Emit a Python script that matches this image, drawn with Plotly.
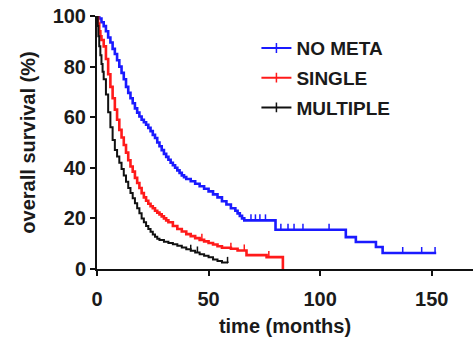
import numpy as np
import plotly.graph_objects as go

# ---- data ----
nometa_t = [0, 1, 2, 3, 4, 5, 6, 7, 8, 9, 10, 11, 12, 13, 14, 15, 16, 17, 18, 19, 20,
            21, 22, 23, 24, 25, 26, 27, 28, 29, 30, 31, 32, 33, 34, 35, 36, 37, 38, 39,
            40, 42, 44, 46, 48, 50, 52, 54, 56, 58, 60, 62, 63, 64, 65, 66, 80, 111.5,
            116, 125, 128, 152]
nometa_s = [100, 99, 97.5, 96, 94, 91.5, 89.5, 87, 85, 82.5, 80, 77.5, 75, 72, 69.6, 67.5,
            65.5, 63.5, 61.8, 60.3, 59, 58, 57, 55.8, 54.5, 53, 51.8, 50, 48.5, 47, 45.5,
            44.3, 43.2, 42, 41, 40, 39, 38, 37, 36.3, 35.6, 34.7, 33.7, 32.7, 31.7, 30.7,
            29.5, 28.3, 26.8, 25.5, 24, 23, 22, 21, 20, 19.2, 15.5, 12.6, 10.7, 8.7, 6.3,
            6.3]
nometa_censor = [69, 71, 73, 75.5, 82.4, 85.6, 88.3, 92.3, 104, 137, 145.5, 151.5]

single_t = [0, 0.5, 1, 1.5, 2, 3, 4, 5, 6, 7, 8, 9, 10, 11, 12, 13, 14, 15, 16, 17, 18,
            19, 20, 21, 22, 23, 24, 25, 26, 27, 28, 29, 30, 31, 32, 34, 36, 38, 40, 42,
            44, 46, 48, 50, 52, 54, 56, 60, 63, 67, 76, 83.3]
single_s = [100, 97, 94, 92, 90.5, 88, 83, 77, 72, 67.5, 63, 59, 55, 52, 49, 46, 43, 40.5,
            38.5, 36, 34, 32, 30, 28.3, 27, 25.8, 24.8, 24, 23, 22.3, 21.6, 20.8, 20,
            19.2, 18.5, 17, 15.8, 14.8, 13.8, 13, 12.2, 11.5, 10.9, 10.3, 9.7, 9, 8.4, 8,
            7.3, 5.5, 4.7, 0]
single_censor = [47, 60, 66, 77]

multiple_t = [0, 0.3, 0.6, 1, 1.5, 2, 2.5, 3, 4, 5, 6, 7, 8, 9, 10, 11, 12, 13, 14, 15,
              16, 17, 18, 19, 20, 21, 22, 23, 24, 25, 26, 27, 28, 30, 32, 34, 36, 38, 40,
              42, 44, 46, 48, 50, 52, 54, 56, 58.5]
multiple_s = [100, 96, 92, 88, 84.5, 81, 78, 75, 69, 62, 56, 51, 47, 44.5, 42, 39.5, 37,
              34.5, 32, 30, 28, 26, 24, 22, 20, 18.5, 17, 15.8, 14.7, 13.6, 12.7, 12, 11.5,
              10.8, 10.3, 9.8, 9.2, 8.5, 7.8, 7.2, 6.5, 5.8, 5.2, 4.6, 3.8, 3.2, 2.6, 2.4]
multiple_censor = [42, 45, 58.5]

group_names = ["NO META", "SINGLE", "MULTIPLE"]
group_colors = ["#1a1aff", "#ff1a1a", "#111111"]
x_ticks = [0, 50, 100, 150]
y_ticks = [0, 20, 40, 60, 80, 100]

FONT = "Liberation Sans"
TXT = "#1a1a1a"

groups = [(nometa_t, nometa_s, nometa_censor),
          (single_t, single_s, single_censor),
          (multiple_t, multiple_s, multiple_censor)]

fig = go.Figure()


def step_value(ts, ss, t):
    i = np.searchsorted(np.asarray(ts), t, side="right") - 1
    return ss[max(i, 0)]


for (ts, ss, cens), name, col in zip(groups, group_names, group_colors):
    lw = 2.0 if name == "MULTIPLE" else 2.6
    fig.add_trace(go.Scatter(x=ts, y=ss, mode="lines", line=dict(color=col, width=lw, shape="hv"),
                             showlegend=False, cliponaxis=False, hoverinfo="skip"))
    cy = [step_value(ts, ss, c) for c in cens]
    fig.add_trace(go.Scatter(x=cens, y=cy, mode="markers", marker=dict(size=1, color=col),
                             error_y=dict(type="constant", value=2.4, symmetric=False,
                                          valueminus=0, width=0, thickness=1.5, color=col),
                             showlegend=False, cliponaxis=False, hoverinfo="skip"))
    fig.add_trace(go.Scatter(x=[None], y=[None], mode="lines+markers", name=name,
                             legendgroup=name,
                             line=dict(color=col, width=2),
                             marker=dict(symbol="line-ns-open", size=7,
                                         line=dict(color=col, width=1.5))))

fig.update_layout(
    width=476, height=342,
    margin=dict(l=97, r=3, t=16, b=73, autoexpand=False),
    paper_bgcolor="white", plot_bgcolor="white",
    font=dict(family=FONT, size=19, color=TXT, weight="bold"),
    legend=dict(x=0.424, y=0.948, xanchor="left", yanchor="top",
                bgcolor="rgba(0,0,0,0)", tracegroupgap=2,
                font=dict(family=FONT, size=19, color=TXT, weight="bold")),
    xaxis=dict(range=[0, 168.5], tickvals=x_ticks, ticks="outside", ticklen=5, tickwidth=2,
               tickcolor="#111", showline=True, linewidth=2, linecolor="#111",
               showgrid=False, zeroline=False, ticklabelstandoff=6, automargin=False,
               tickfont=dict(family=FONT, size=20, color=TXT, weight="bold"),
               title=dict(text="time (months)", standoff=10,
                          font=dict(family=FONT, size=20, color=TXT, weight="bold"))),
    yaxis=dict(range=[0, 100], tickvals=y_ticks, ticks="outside", ticklen=5, tickwidth=2,
               tickcolor="#111", showline=True, linewidth=2, linecolor="#111",
               showgrid=False, zeroline=False, automargin=False,
               tickfont=dict(family=FONT, size=20, color=TXT, weight="bold"),
               title=dict(text="overall survival (%)", standoff=12,
                          font=dict(family=FONT, size=20, color=TXT, weight="bold"))),
)

fig.write_html("out.html", config={"displayModeBar": False},
               post_script="document.body.style.margin='0';document.body.style.padding='0';")
